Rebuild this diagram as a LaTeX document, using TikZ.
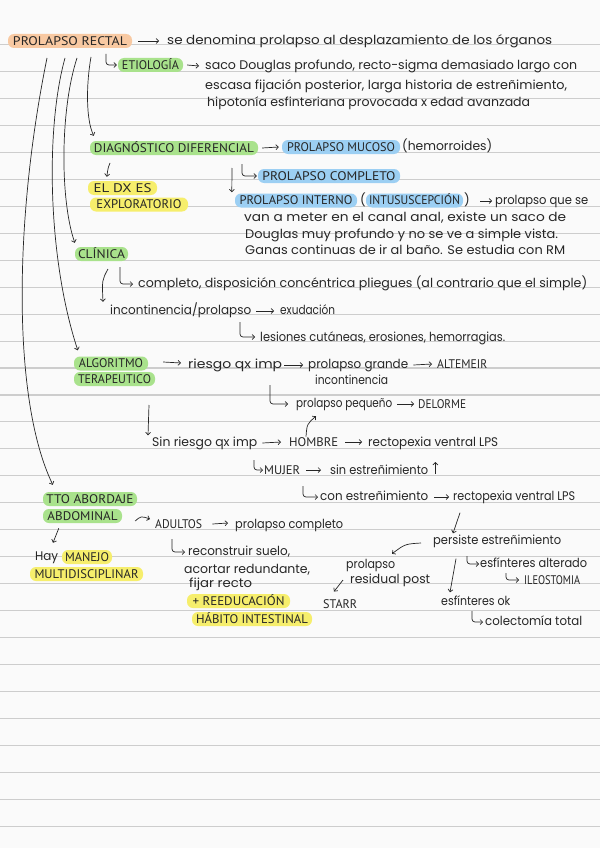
\documentclass[tikz,border=0pt]{standalone}
\usepackage{fontspec}
\setmainfont{Poppins}
\newfontfamily\capfont{PT Sans}
\usetikzlibrary{arrows.meta}
\definecolor{paper}{HTML}{FAFAFA}
\definecolor{rulecol}{HTML}{CDCDCD}
\definecolor{ink}{HTML}{262626}
\definecolor{hgreen}{HTML}{A9E28C}
\definecolor{hblue}{HTML}{9CCFF3}
\definecolor{hyellow}{HTML}{F6EE6C}
\definecolor{horange}{HTML}{F8C9A2}
\newcommand\fitw[2]{\resizebox{#1pt}{\height}{#2}}
\begin{document}
\begin{tikzpicture}[x=1pt,y=-1pt,
  tx/.style={anchor=west, inner sep=0pt, text height=7pt, text depth=0pt, font=\fontsize{12.5}{14}\selectfont, text=ink},
  cp/.style={anchor=west, inner sep=0pt, text height=8.5pt, text depth=0pt, font=\capfont\fontsize{12.5}{14}\selectfont, text=ink},
  hl/.style={inner sep=0pt, text height=8.5pt, text depth=0pt, font=\capfont\fontsize{12.5}{14}\selectfont, text=ink, rounded corners=6pt, minimum height=14pt, fill=#1},
  arr/.style={draw=ink, line width=0.7pt, -{Straight Barb[length=2.5pt,width=5pt]}},
]
\fill[paper] (0,0) rectangle (600,848);
\useasboundingbox (0,0) rectangle (600,848);
\foreach \k in {0,...,29} \draw[rulecol, line width=1.1pt] (0,{44.5+26.96*\k}) -- (600,{44.5+26.96*\k});

% ---- nodes
\node[hl=horange, minimum width=124] (prol) at (70,41) {\fitw{114}{PROLAPSO RECTAL}};
\node[tx] (den) at (167,41) {\fitw{385}{se denomina prolapso al desplazamiento de los órganos}};
\node[hl=hgreen, minimum width=65] (etio) at (150.5,65) {\fitw{57}{ETIOLOGÍA}};
\node[tx] (et1) at (205,66) {\fitw{372}{saco Douglas profundo, recto-sigma demasiado largo con}};
\node[tx] (et2) at (205,86) {\fitw{362}{escasa fijación posterior, larga historia de estreñimiento,}};
\node[tx] (et3) at (207,103) {\fitw{323}{hipotonía esfinteriana provocada x edad avanzada}};
\node[hl=hgreen, minimum width=168] (diag) at (174,148) {\fitw{160}{DIAGNÓSTICO DIFERENCIAL}};
\node[hl=hblue, minimum width=118] (muc) at (341,147) {\fitw{108}{PROLAPSO MUCOSO}};
\node[tx] (hem) at (402,147) {\fitw{90}{(hemorroides)}};
\node[hl=hyellow, minimum width=69] (dx1) at (122.5,188) {\fitw{58}{EL DX ES}};
\node[hl=hyellow, minimum width=98] (dx2) at (139,204.5) {\fitw{85}{EXPLORATORIO}};
\node[hl=hblue, minimum width=142] (comp) at (329,176) {\fitw{133}{PROLAPSO COMPLETO}};
\node[hl=hblue, minimum width=122] (pint) at (296,200.5) {\fitw{113}{PROLAPSO INTERNO}};
\node[tx] (lp) at (360,201) {(};
\node[hl=hblue, minimum width=97] (intu) at (414.5,200.5) {\fitw{91}{INTUSUSCEPCIÓN}};
\node[tx] (rp) at (464,201) {)};
\node[tx] (int2) at (495,201) {\fitw{93}{prolapso que se}};
\node[tx] (int3) at (244,218) {\fitw{322}{van a meter en el canal anal, existe un saco de}};
\node[tx] (int4) at (245,235) {\fitw{313}{Douglas muy profundo y no se ve a simple vista.}};
\node[tx] (int5) at (245,251) {\fitw{320}{Ganas continuas de ir al baño. Se estudia con RM}};
\node[hl=hgreen, minimum width=53] (cli) at (101.5,254) {\fitw{47}{CLÍNICA}};
\node[tx] (cli1) at (138,284) {\fitw{449}{completo, disposición concéntrica pliegues (al contrario que el simple)}};
\node[tx] (cli2) at (110,311) {\fitw{141}{incontinencia/prolapso}};
\node[tx] (cli3) at (280,311) {\fitw{55}{exudación}};
\node[tx] (cli4) at (260,338) {\fitw{245}{lesiones cutáneas, erosiones, hemorragias.}};
\node[hl=hgreen, minimum width=74] (alg) at (111,363.5) {\fitw{64}{ALGORITMO}};
\node[hl=hgreen, minimum width=81] (ter) at (114.5,379) {\fitw{73}{TERAPEUTICO}};
\node[tx] (rq) at (188,365) {\fitw{94}{riesgo qx imp}};
\node[tx] (pg) at (308,365) {\fitw{100}{prolapso grande}};
\node[cp] (alt) at (437,364) {\fitw{50}{ALTEMEIR}};
\node[tx] (inc) at (315,381) {\fitw{73}{incontinencia}};
\node[tx] (pp) at (296,404) {\fitw{96}{prolapso pequeño}};
\node[cp] (del) at (418,404) {\fitw{48}{DELORME}};
\node[tx] (sr) at (152,443) {\fitw{105}{Sin riesgo qx imp}};
\node[cp] (hom) at (289,442) {\fitw{49}{HOMBRE}};
\node[tx] (rv1) at (368,443) {\fitw{130}{rectopexia ventral LPS}};
\node[cp] (muj) at (264,470) {\fitw{36}{MUJER}};
\node[tx] (se) at (330,471) {\fitw{98}{sin estreñimiento}};
\node[tx] (ce) at (320,497) {\fitw{108}{con estreñimiento}};
\node[tx] (rv2) at (453,497) {\fitw{122}{rectopexia ventral LPS}};
\node[tx] (pe) at (433,541) {\fitw{128}{persiste estreñimiento}};
\node[tx] (pr1) at (346,565) {\fitw{49}{prolapso}};
\node[tx] (pr2) at (350,580) {\fitw{80}{residual post}};
\node[cp] (sta) at (323,604) {\fitw{34}{STARR}};
\node[tx] (eok) at (441,602) {\fitw{69}{esfínteres ok}};
\node[tx] (eal) at (480,564) {\fitw{107}{esfínteres alterado}};
\node[cp] (ile) at (524,580) {\fitw{56}{ILEOSTOMIA}};
\node[tx] (col) at (485,622) {\fitw{97}{colectomía total}};
\node[hl=hgreen, minimum width=94] (tto1) at (90,499) {\fitw{87}{TTO ABORDAJE}};
\node[hl=hgreen, minimum width=79] (tto2) at (82.5,516) {\fitw{70}{ABDOMINAL}};
\node[cp] (adu) at (155,524) {\fitw{47}{ADULTOS}};
\node[tx] (pco) at (235,525) {\fitw{108}{prolapso completo}};
\node[tx] (hay) at (35,557) {\fitw{23}{Hay}};
\node[hl=hyellow, minimum width=50] (man) at (87,557) {\fitw{44}{MANEJO}};
\node[hl=hyellow, minimum width=113] (mul) at (86.5,574) {\fitw{104}{MULTIDISCIPLINAR}};
\node[tx] (rc1) at (188,552) {\fitw{102}{reconstruir suelo,}};
\node[tx] (rc2) at (184,570) {\fitw{126}{acortar redundante,}};
\node[tx] (rc3) at (189,584) {\fitw{63}{fijar recto}};
\node[hl=hyellow, minimum width=103] (ree) at (238.5,601) {\fitw{92}{+ REEDUCACIÓN}};
\node[hl=hyellow, minimum width=120] (hab) at (252,619) {\fitw{112}{HÁBITO INTESTINAL}};

% ---- coordinates for free ends
\coordinate (s1) at (91,57);
\coordinate (s2) at (77,58);
\coordinate (s3) at (65,58);
\coordinate (s4) at (47,58);
\coordinate (h1) at (106,54);
\coordinate (h2) at (242,164);
\coordinate (h3) at (120,267);
\coordinate (h4) at (240,322);
\coordinate (h5) at (270,385);
\coordinate (h6) at (254,460);
\coordinate (h7) at (303,486);
\coordinate (h8) at (467,556);
\coordinate (h9) at (506,573);
\coordinate (h10) at (472,611);
\coordinate (h11) at (172,539);
\coordinate (d1) at (110,163);
\coordinate (d2) at (232,168);
\coordinate (d3) at (108,269);
\coordinate (d4) at (149,405);

% ---- connectors
\draw[arr] ([xshift=6]prol.east) -- ([xshift=-8]den.west);
\draw[arr, rounded corners=3] (h1) |- ([xshift=-1]etio.west);
\draw[arr] ([xshift=4]etio.east) -- ([xshift=-6]et1.west);
\draw[arr] (s1) .. controls (86,85) and (86,120) .. ([xshift=4,yshift=5]diag.north west);
\draw[arr] (s2) .. controls (60,110) and (60,200) .. ([yshift=4]cli.north west);
\draw[arr] (s3) .. controls (45,130) and (48,260) .. ([xshift=4,yshift=6]alg.north west);
\draw[arr] (s4) .. controls (14,220) and (12,400) .. ([xshift=10,yshift=7]tto1.north west);
\draw[arr] ([xshift=4]diag.east) -- ([xshift=-3]muc.west);
\draw[arr] (d1) .. controls (108,168) .. ([xshift=19,yshift=4]dx1.north west);
\draw[arr, rounded corners=3] (h2) |- ([xshift=-1]comp.west);
\draw[arr] (d2) -- ([xshift=-3,yshift=1]pint.north west);
\draw[arr] ([xshift=10]rp.east) -- ([xshift=-3]int2.west);
\draw[arr, rounded corners=3] (h3) |- ([xshift=-5]cli1.west);
\draw[arr] (d3) .. controls (102,280) .. ([xshift=-7,yshift=5.5]cli2.north west);
\draw[arr] ([xshift=5]cli2.east) -- ([xshift=-6]cli3.west);
\draw[arr, rounded corners=3] (h4) |- ([xshift=-5,yshift=1]cli4.west);
\draw[arr] ([xshift=15,yshift=1.5]alg.east) -- ([xshift=-7,yshift=2]rq.west);
\draw[arr] ([xshift=2]rq.east) -- ([xshift=-5]pg.west);
\draw[arr] ([xshift=5]pg.east) -- ([xshift=-5]alt.west);
\draw[arr, rounded corners=3] (h5) |- ([xshift=-8]pp.west);
\draw[arr] ([xshift=5]pp.east) -- ([xshift=-4]del.west);
\draw[arr] (d4) -- ([xshift=-4,yshift=4]sr.north west);
\draw[arr] ([xshift=5]sr.east) -- ([xshift=-8]hom.west);
\draw[arr] ([xshift=17,yshift=1]hom.north west) .. controls (307,424) .. ([xshift=20,yshift=-8.5]pp.south west);
\draw[arr] ([xshift=7]hom.east) -- ([xshift=-6,yshift=1]rv1.west);
\draw[arr, rounded corners=3] (h6) |- ([xshift=-1]muj.west);
\draw[arr] ([xshift=6]muj.east) -- ([xshift=-9,yshift=1]se.west);
\draw[arr] ([xshift=7,yshift=-3]se.east) -- ([xshift=7,yshift=9]se.east);
\draw[arr, rounded corners=3] (h7) |- ([xshift=-2]ce.west);
\draw[arr] ([xshift=6]ce.east) -- ([xshift=-4]rv2.west);
\draw[arr] ([xshift=7,yshift=-12]rv2.south west) -- ([xshift=20,yshift=4]pe.north west);
\draw[arr] ([xshift=-12,yshift=-2]pe.west) .. controls (405,544) .. ([xshift=46,yshift=7.5]pr1.north west);
\draw[arr] ([xshift=-7]pr2.west) -- ([xshift=11,yshift=8]sta.north west);
\draw[arr] ([xshift=23,yshift=-14]pe.south west) -- ([xshift=9,yshift=6]eok.north west);
\draw[arr, rounded corners=3] (h8) |- ([xshift=-1]eal.west);
\draw[arr, rounded corners=3] (h9) |- ([xshift=-5]ile.west);
\draw[arr, rounded corners=3] (h10) |- ([xshift=-2]col.west);
\draw[arr] ([xshift=13,yshift=-5]tto2.east) .. controls (141,516) .. ([xshift=-5,yshift=5]adu.west);
\draw[arr] ([xshift=10]adu.east) -- ([xshift=-7,yshift=2]pco.west);
\draw[arr] ([xshift=16,yshift=-5]tto2.south west) -- ([xshift=18,yshift=10.5]hay.north west);
\draw[arr, rounded corners=3] (h11) |- ([xshift=-3]rc1.west);
\end{tikzpicture}
\end{document}
